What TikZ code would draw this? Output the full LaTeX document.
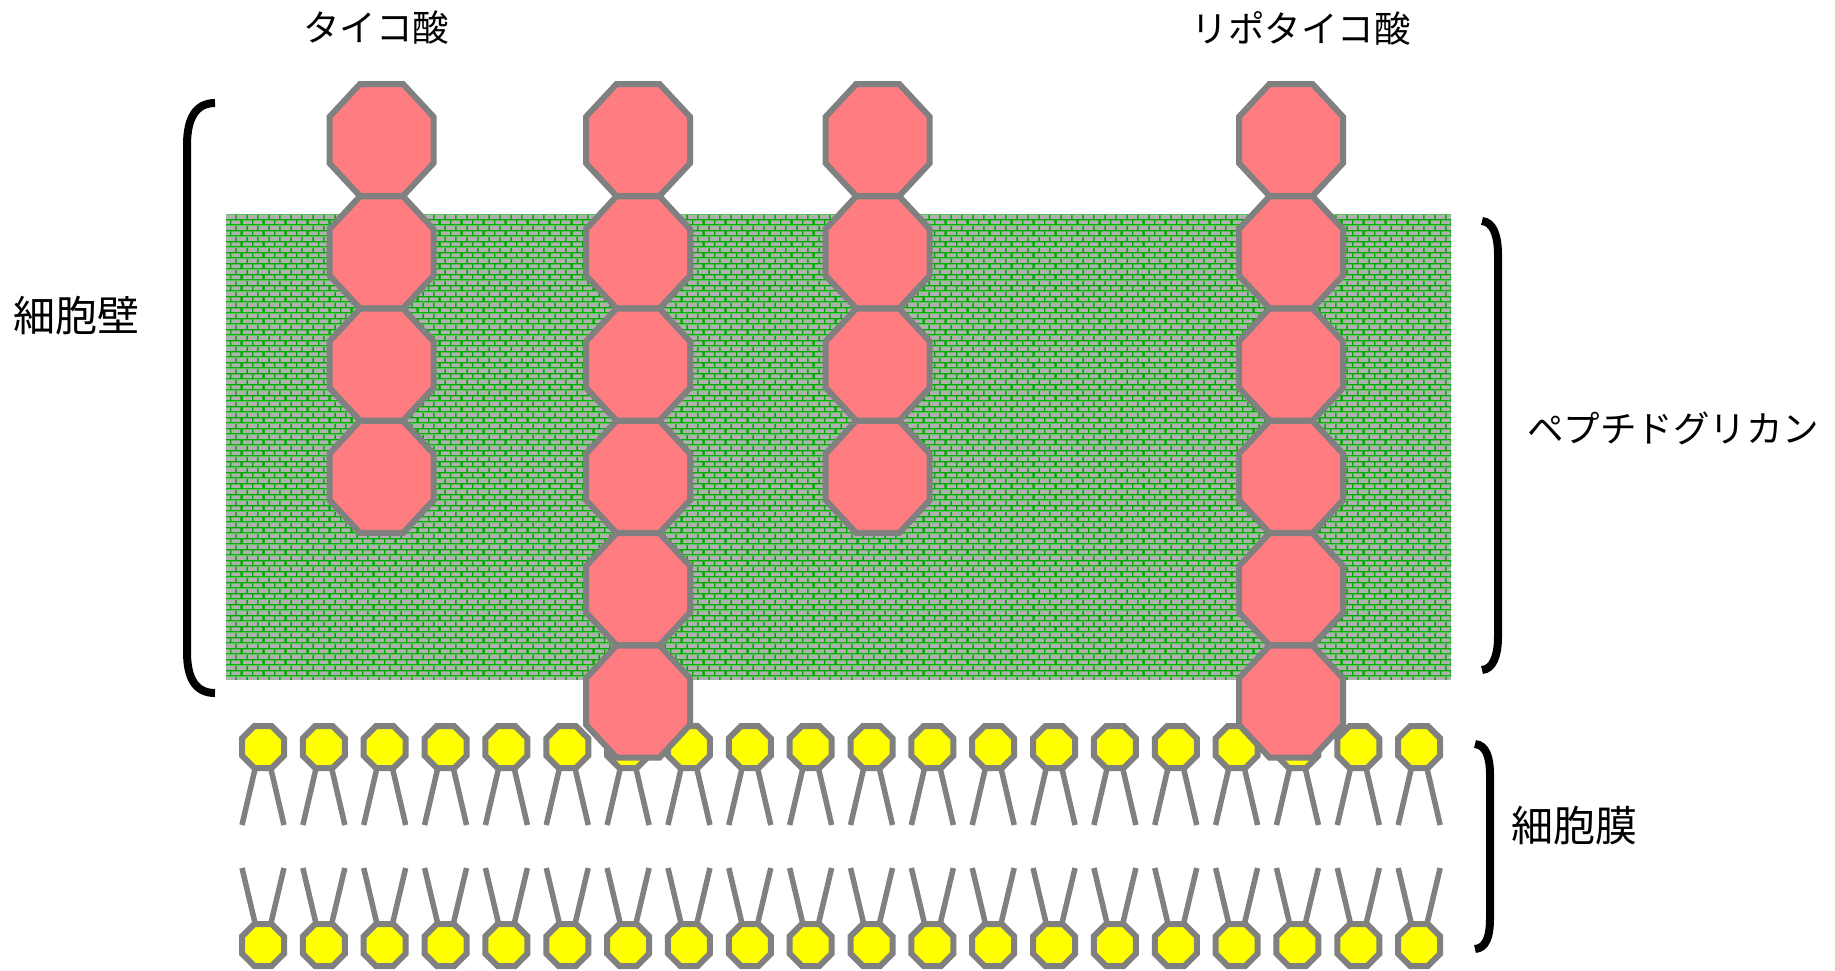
\documentclass[tikz,border=0pt]{standalone}
\usepackage{fontspec}
\newfontfamily\jp{Noto Sans CJK JP}
\usetikzlibrary{patterns}

\definecolor{grout}{RGB}{0,170,0}
\definecolor{brick}{RGB}{176,176,176}
\definecolor{acid}{RGB}{255,124,128}
\definecolor{rim}{RGB}{128,128,128}
\definecolor{headfill}{RGB}{255,255,0}

% brick wall used for the peptidoglycan layer
\pgfdeclarepatterninherentlycolored{pgwall}{\pgfpointorigin}{\pgfpoint{22pt}{11.34pt}}{\pgfpoint{22pt}{11.34pt}}{%
  \pgfsetfillcolor{grout}%
  \pgfpathrectangle{\pgfpointorigin}{\pgfpoint{22pt}{11.34pt}}%
  \pgfusepath{fill}%
  \pgfsetfillcolor{brick}%
  \pgfpathrectangle{\pgfpoint{0.8pt}{0.8pt}}{\pgfpoint{9.4pt}{4.07pt}}%
  \pgfpathrectangle{\pgfpoint{11.8pt}{0.8pt}}{\pgfpoint{9.4pt}{4.07pt}}%
  \pgfpathrectangle{\pgfpoint{-4.7pt}{6.47pt}}{\pgfpoint{9.4pt}{4.07pt}}%
  \pgfpathrectangle{\pgfpoint{6.3pt}{6.47pt}}{\pgfpoint{9.4pt}{4.07pt}}%
  \pgfpathrectangle{\pgfpoint{17.3pt}{6.47pt}}{\pgfpoint{9.4pt}{4.07pt}}%
  \pgfusepath{fill}%
}

\tikzset{
  % octagon with half-width #1 and half-height #2
  pics/octa/.style 2 args={code={
    \path[pic actions] (-#1,-0.4142*#2) -- (-#1,0.4142*#2) -- (-0.4142*#1,#2)
      -- (0.4142*#1,#2) -- (#1,0.4142*#2) -- (#1,-0.4142*#2)
      -- (0.4142*#1,-#2) -- (-0.4142*#1,-#2) -- cycle;
  }},
  acidunit/.style={draw=rim, fill=acid, line width=6pt, line join=miter},
  headunit/.style={draw=rim, fill=headfill, line width=6pt},
  tail/.style={draw=rim, line width=5.5pt},
  brace/.style={draw=black, line width=8pt},
  katalbl/.style={inner sep=0pt, font=\jp\fontsize{36.5}{40}\selectfont},
  kanjilbl/.style={inner sep=0pt, font=\jp\fontsize{42}{46}\selectfont},
  % phospholipid of the outer leaflet: head up, tails down
  pics/liptop/.style={code={
    \draw[tail] (-7.5,20) -- (-21,78);
    \draw[tail] (7.5,20) -- (21,78);
    \pic[headunit] {octa={21}{21}};
  }},
  % phospholipid of the inner leaflet: tails up, head down
  pics/lipbot/.style={code={
    \draw[tail] (-7.5,-20) -- (-21,-77);
    \draw[tail] (7.5,-20) -- (21,-77);
    \pic[headunit] {octa={21}{21}};
  }}
}

\begin{document}
\begin{tikzpicture}[x=1pt, y=-1pt]
  \useasboundingbox (0,0) rectangle (1835,970);

  % peptidoglycan layer
  \path[pattern=pgwall] (226,214) rectangle (1451,679);

  % lipid bilayer
  \foreach \i in {0,...,19} {
    \pic at ({263+60.85*\i},747) {liptop};
    \pic at ({263+60.85*\i},945) {lipbot};
  }

  % teichoic acid chains
  \foreach \k in {0,...,3} {
    \pic[acidunit] at (381.5,{140+112.3*\k}) {octa={52}{56}};
    \pic[acidunit] at (877.7,{140+112.3*\k}) {octa={52}{56}};
  }
  \foreach \k in {0,...,5} {
    \pic[acidunit] at (638,{140+112.3*\k}) {octa={52}{56}};
    \pic[acidunit] at (1291,{140+112.3*\k}) {octa={52}{56}};
  }

  % brackets
  \draw[brace] (215,103) .. controls (196,103) and (187,118) .. (187,145)
    -- (187,652) .. controls (187,679) and (196,693) .. (215,693);
  \draw[brace] (1482,221) .. controls (1493,222) and (1498,235) .. (1498,255)
    -- (1498,636) .. controls (1498,656) and (1493,669) .. (1482,670);
  \draw[brace] (1475,744) .. controls (1486,745) and (1490,757) .. (1490,775)
    -- (1490,918) .. controls (1490,937) and (1486,948) .. (1475,949);

  % labels
  \node[katalbl] (teichoic) at (376,28) {タイコ酸};
  \node[katalbl] (lipoteichoic) at (1301,28) {リポタイコ酸};
  \node[kanjilbl] (wall) at (76,316) {細胞壁};
  \node[katalbl] (pg) at (1673,428) {ペプチドグリカン};
  \node[kanjilbl] (membrane) at (1574,826) {細胞膜};
\end{tikzpicture}
\end{document}
